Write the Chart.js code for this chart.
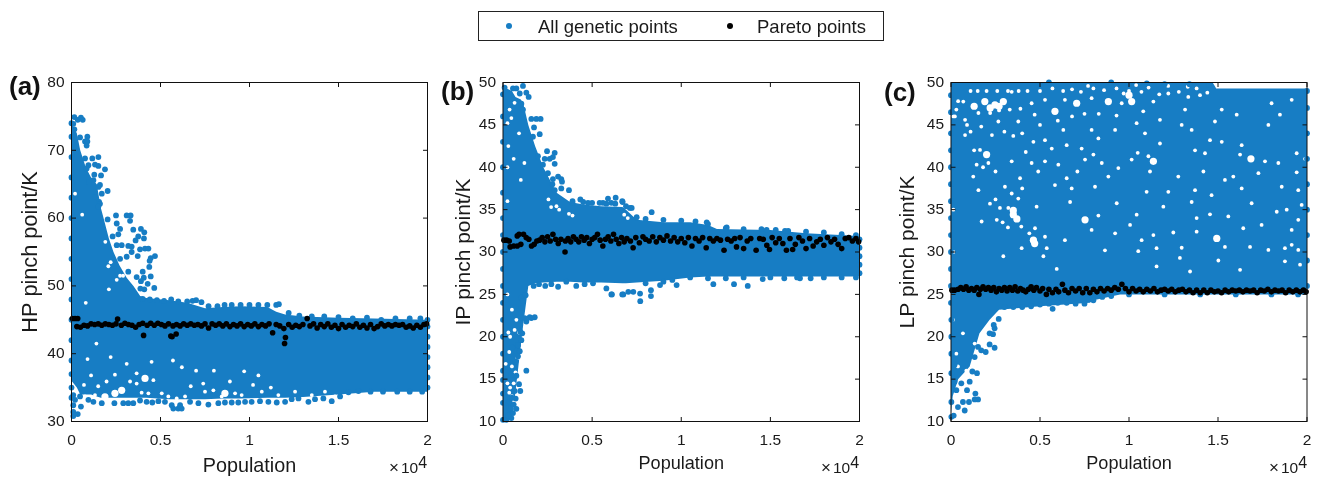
<!DOCTYPE html>
<html><head><meta charset="utf-8">
<script src="https://cdn.jsdelivr.net/npm/chart.js@4/dist/chart.umd.min.js"></script>
<style>
html,body{margin:0;padding:0;background:#fff;width:1320px;height:478px;overflow:hidden;font-family:"Liberation Sans",Arial,sans-serif;color:#1a1a1a}
canvas{position:absolute;top:0}
.t{position:absolute;white-space:nowrap;line-height:1}
.lb{position:absolute;left:478px;top:10.5px;width:406px;height:30px;border:1px solid #222;box-sizing:border-box}
.d{position:absolute;border-radius:50%;width:6px;height:6px}
.p{font-weight:bold;font-size:26px;color:#111}
.m{margin-right:2px;font-size:17px}
sup{font-size:16px;line-height:0;vertical-align:5px}
</style></head><body>
<canvas id="ca" width="440" height="478" style="left:0"></canvas>
<canvas id="cb" width="440" height="478" style="left:440px"></canvas>
<canvas id="cc" width="440" height="478" style="left:880px"></canvas>
<div class="lb"></div>
<div class="d" style="left:505.5px;top:23px;background:#177dc4"></div>
<div class="t" style="left:538px;top:18px;font-size:18.5px">All genetic points</div>
<div class="d" style="left:726.5px;top:23px;background:#000"></div>
<div class="t" style="left:757px;top:18px;font-size:18.5px">Pareto points</div>
<div class="t p" style="left:9px;top:73px">(a)</div>
<div class="t p" style="left:441px;top:78px">(b)</div>
<div class="t p" style="left:884px;top:79px">(c)</div>
<div class="t" style="left:389px;top:459px;font-size:15.5px"><span class="m">×</span>10<sup>4</sup></div>
<div class="t" style="left:821px;top:459px;font-size:15.5px"><span class="m">×</span>10<sup>4</sup></div>
<div class="t" style="left:1269px;top:459px;font-size:15.5px"><span class="m">×</span>10<sup>4</sup></div>
<script>
// ---------- Panel (a) HP pinch point ----------
const aBandX=[0,300,490,800,1100,1420,1650,1800,2100,2360,2700,3100,3480,3860,4200,5500,6500,7500,8500,9500,11000,11500,12000,13000,15000,17000,20000];
const aBandHi=[74,72.5,70,67.5,66,65,61.5,60,57,55,53,51.2,50,48.5,48.2,47.9,47.5,46.7,46.9,47,46.9,46.2,45.8,45.5,45.3,45.2,45];
const aBandLo=[36,35,34,34,34,33.7,33.5,33.5,33.5,33.5,33.5,33.5,33.5,33.5,33.5,33.3,33.3,33.3,33.4,33.4,33.5,33.5,33.5,33.6,34,34.4,34.4];
const aPoints=[[160,74.9],[0,74],[100,73.9],[350,74.5],[530,74.8],[630,74.5],[160,73.1],[480,71.9],[890,72],[760,71.3],[890,71.3],[850,70.7],[1510,69],[1170,68.8],[760,68.8],[950,67.8],[850,67.3],[1320,67.9],[1510,67.7],[1880,67.2],[1280,66.4],[1660,66.3],[1600,64.9],[2030,64],[1510,64.6],[1230,65.6],[980,65.3],[1700,63.6],[1550,62.4],[1600,62.1],[1510,61.7],[1320,63.1],
[2500,60.4],[3100,60.4],[3320,60.4],[3290,59.6],[2540,59.2],[2030,59.8],[2730,58.4],[3470,58.3],[3900,58.4],[4090,57.9],[4070,57],[3750,57.3],[3600,56.7],[2630,57.6],[2310,57.3],[2820,56],[3190,55.9],[3380,55.8],[3850,55.4],[4130,55.5],[4320,55.5],[4690,54.4],[4450,54.1],[4390,53.7],[3720,54.4],[3380,55],[4370,52.8],[4000,52.1],[4450,51.4],[4060,51.2],[3900,50.7],[4280,50.3],[4650,49.7],[4090,49.5],[3870,49.6],[3660,51.3],[3190,52.1],[2730,54],[3100,54.3],[2540,56],
[100,30.8],[350,31.1],[100,31.4],[530,32.2],[100,32.4],[200,33.2],[100,33.9],[480,33.7],[950,33.2],[1230,32.9],[1700,32.7],[2410,32.7],[2910,32.7],[3190,32.7],[3470,32.7],[3850,33.1],[4220,32.9],[4540,32.8],[4880,33],[5250,32.9],[5720,31.9],[6000,31.9],[6190,31.9],[5630,32.4],[6100,32.4],[6660,32.9],[7130,32.7],[7690,32.5],[8250,32.7],[8620,32.8],[9000,32.8],[9370,32.8],[9750,32.9],[10120,32.9],[10590,33],[11060,32.9],[11530,32.8],[12000,32.9],[12370,33.3],[12750,33.4],[13310,32.9],[13680,33.3],[14150,33.4],[14620,33],[15090,33.7],[15560,34.3],[16120,34.5],
[4000,48.1],[4400,48],[4800,47.9],[5200,47.8],[5600,48],[6000,47.7],[6500,47.7],[6800,47.8],[7000,47.9],[7300,47.6],[7700,47],[8200,47],[8600,47.2],[9000,47.2],[9500,47.2],[10000,47.2],[10500,47.2],[11000,47.2],[11500,47.2],[11650,47.3],[12200,46],[12800,45.6],[13500,45.5],[14200,45.5],[15000,45.4],[15800,45.2],[16600,45.3],[17400,45],[18200,45.2],[19000,45.2],[19600,45.2],[16800,34.4],[17500,34.4],[18300,34.4],[19000,34.4],[19700,34.4],
[0,35],[0,33.5],[0,37],[0,39],[0,42],[0,45],[0,48],[0,51],[0,54],[0,57],[0,60],[0,63],[0,66],[0,69],[0,72],[20000,35],[20000,36.5],[20000,38],[20000,39.5],[20000,41],[20000,42.5],[20000,44],[20000,45]];
const aPareto=[[50,45.2],[200,45.2],[350,45.2],[300,44],[500,43.9],[700,44.2],[900,44.1],[1100,44.4],[1300,44.3],[1500,44.4],[1700,44.2],[1900,44.4],[2100,44.3],[2300,44.2],[2500,44.4],[2590,45.1],[2800,44.2],[3000,44.5],[3200,44.3],[3400,44.2],[3600,43.9],[3800,44.3],[4000,44.5],[4050,42.7],[4250,44.2],[4450,44.5],[4650,44.2],[4850,44.5],[5050,44.3],[5250,44.1],[5450,44.4],[5580,42.6],[5650,42.5],[5880,42.9],[5700,44.1],[5900,44.3],[6100,44.1],[6300,44.4],[6500,44.2],[6700,44.4],[6900,44.2],[7100,44.3],[7300,44.1],[7500,44.4],[7700,43.8],[7900,44.4],[8100,44.2],[8300,44.4],[8500,44.1],[8700,44.4],[8900,44],[9100,44.3],[9300,44.1],[9500,44.4],[9700,44],[9900,44.3],[10100,44.1],[10300,44.4],[10500,44],[10700,44.3],[10900,44.1],[11100,44.4],[11300,43.1],[11500,44.3],[11700,44.1],[11930,43.7],[12020,42.4],[11970,41.5],[12200,44.3],[12400,43.9],[12600,44.2],[12800,44],[13000,44.3],[13240,45.2],[13400,44.1],[13600,44.4],[13800,43.8],[14000,44.3],[14200,44],[14400,44.4],[14600,43.9],[14800,44.2],[15000,43.7],[15200,44.3],[15400,43.9],[15600,44.2],[15800,44],[16000,44.4],[16200,43.9],[16400,44.2],[16600,43.8],[16800,44.3],[17000,43.7],[17200,44],[17400,44.4],[17600,44.1],[17800,44.3],[18000,44.1],[18200,44.3],[18400,44.2],[18600,44.3],[18800,43.9],[19000,44.1],[19200,43.8],[19400,44.2],[19600,43.9],[19800,44.3],[19950,44.4]];
const aGapsSmall=[[2070,52.9],[2540,50.9],[2730,51.5],[200,63.6],[600,60.5],[1900,56.5],[2200,53.5],[2900,51.5],[2100,49.5],[800,47.5],[1400,41.5],[2200,39.5],[4500,38.8],[5700,39],[6200,38],[3100,38.5],[900,39.2],[7000,37.5],[8000,37.5],[9700,37.4],[10500,36.8],
[3660,37.1],[4600,36.1],[2440,36.9],[1970,35.9],[1320,33.9],[760,33.7],[3290,35.9],[3660,35.6],[4320,34.15],[3940,34.25],[5070,34.15],[5440,33.7],[5910,33.4],[6380,33.7],[7400,35.6],[7500,34.4],[7970,34.6],[9190,34.15],[9560,33.9],[8440,33.7],[10690,34.4],[11620,33.9],[12560,34.4],[13500,33.9],[14240,34.4],[14800,33.7],[1500,35.2],[6700,35.2],[8900,35.9],[10200,35.4],[11200,35],[700,35.4],[1100,36.8]];
const aGapsBig=[[4130,36.36],[2820,34.6],[2440,34.15],[1880,33.65],[8620,34.15]];
// ---------- Panel (b) IP pinch point ----------
const bBandX=[0,500,700,1000,1140,1420,1800,2260,3010,3760,4500,5500,6700,6900,7500,9000,10500,11500,12000,15000,17000,20000];
const bBandHi=[49.5,49,48.3,48,47.5,45,42.5,40,37,35.9,35.6,35.4,35.3,35,33.8,33.5,33.5,33.2,32.7,32.6,32.2,31.9];
const bBandLo=[10.2,10.3,13.5,19,21.5,26,26.3,26.4,26.5,26.5,26.4,26.4,26.3,26.3,26.4,26.6,27,27.1,27.1,27.1,27.1,27.1];
const bPoints=[[1120,49.6],[560,49.3],[750,49.3],[90,49.4],[1310,48.8],[1440,48.3],[940,48.7],[0,48.6],[1030,47.5],[1120,46.8],[1590,45.7],[1870,45.7],[2110,45.7],[1740,44.7],[2060,43.9],[1680,43.6],[2470,41.9],[2900,41.7],[2620,41],[2340,41],[2800,41.2],[2900,40.4],[1960,41.3],[2240,40.3],[2520,39.3],[3090,38.9],[2800,38.6],[3270,38.6],[3310,38.3],[2770,38],[3270,37.5],[3700,37.3],[2900,37.3],[4340,36.2],[5890,36.3],[6320,36.4],[6690,36],[5610,35.8],[6080,35.8],[5420,35.8],[4770,35.8],[3890,35.8],[8340,34.7],[7120,35.2],[7220,35.2],[6710,35.9],[11430,33.5],[12550,32.9],[15820,32.5],[14790,32.6],
[1720,26],[2020,26.2],[2370,26],[2710,26.2],[3090,25.9],[3550,26.5],[4110,26],[4580,26.2],[5050,26.3],[5800,25.7],[6080,25],[6690,25],[6110,25],[6750,25],[7030,25.3],[7310,25.3],[7690,25.1],[7700,24.2],[8300,25.5],[8300,24.8],[8810,26.1],[9740,26.1],[11800,26.2],[12960,26.2],[13730,26],[14570,26.8],[15780,26.9],[16660,26.9],[17260,26.9],
[1220,24.9],[1030,24.6],[1030,23.4],[1270,24.9],[1120,24.2],[1780,22.3],[1500,22.3],[1310,21.8],[1220,22.2],[1590,22.2],[970,20.6],[1080,20.4],[1030,19.6],[840,19],[520,18.7],[750,18.3],[940,18.3],[840,17.7],[710,17.1],[1310,16],[750,15.4],[470,15.5],[900,14.4],[650,13.6],[970,13.6],[710,12.7],[370,12.3],[340,11.6],[750,11.5],[560,11],[470,10.4],[0,10.2],[190,10.2],[300,10.7],[450,11.5],[600,12],[500,12.8],[0,12.2],[0,13.3],[0,14.9],
[3900,36],[4500,35.9],[5000,35.8],[5800,35.7],[6300,35.7],[6900,35.4],[7500,34.1],[8000,33.9],[9000,33.8],[10000,33.7],[10800,33.6],[11500,33.3],[12500,32.8],[13500,32.7],[14500,32.7],[15300,32.6],[16000,32.5],[17000,32.4],[18000,32.3],[19000,32.1],[19800,32],[8000,26.3],[9000,26.5],[9500,26.7],[10500,27],[11500,26.9],[12500,26.9],[13500,27],[15000,27],[16500,27],[18000,27],[19000,27],[19800,27],
[0,16],[0,18],[0,20],[0,22],[0,24],[0,26],[0,28],[0,30],[0,32],[0,34],[0,37],[0,40],[0,43],[0,46],[20000,27.5],[20000,28.5],[20000,29.5],[20000,30.5],[20000,31.5]];
const bPareto=[[50,31.4],[200,31.4],[350,31.3],[400,30.6],[600,30.7],[800,30.7],[1000,30.9],[800,31.9],[900,32.1],[1150,32.1],[1300,31.7],[1450,31.5],[1600,30.7],[1750,30.9],[1900,31.3],[2050,31.4],[2200,31.7],[2350,31.2],[2500,31.8],[2650,31.3],[2800,32.1],[2950,31.5],[3100,31],[3250,31.5],[3480,30],[3500,31.3],[3650,31.6],[3800,31.2],[3950,31.8],[4100,31.5],[4250,31.2],[4400,31.8],[4550,31.4],[4700,31.7],[4850,31],[5000,31.5],[5150,31.7],[5300,32.1],[5450,31.4],[5600,30.7],[5750,31.5],[5900,31.8],[6050,31.3],[6200,32.1],[6350,31.5],[6500,31],[6650,31.7],[6800,31.2],[6950,31.6],[7150,31.3],[7300,30.5],[7450,31.7],[7650,31.1],[7850,31.8],[8000,31.5],[8200,31.3],[8400,31.8],[8600,31.2],[8800,31.7],[9000,31.4],[9200,31.9],[9400,31.3],[9600,31.7],[9800,31.2],[10000,31.6],[10200,31.1],[10400,31.7],[10600,30.7],[10800,31.6],[11000,31.3],[11200,31.7],[11400,30.5],[11600,31.6],[11800,31.3],[12000,31.6],[12200,31.4],[12400,30.2],[12600,31.5],[12800,31.3],[13000,31.6],[13100,30.6],[13300,31.7],[13500,30.4],[13700,31.3],[13900,31.6],[14200,30.2],[14400,31.6],[14600,31.5],[14800,30.8],[14950,30.3],[15100,31.7],[15300,31.1],[15500,31.6],[15700,31],[15900,30.2],[16100,31.6],[16250,30.3],[16400,30.9],[16600,31.7],[16800,31.3],[17000,30.4],[17200,31.6],[17400,30.7],[17600,31.2],[17800,31.5],[18000,30.8],[18200,31.7],[18400,31.2],[18600,31.5],[18800,30.9],[19000,30.4],[19200,31.6],[19400,31.7],[19600,31.3],[19800,31.6],[19950,31.2]];
const bGapsSmall=[[370,46.8],[470,45.8],[650,47.6],[250,45.2],[300,42.5],[600,41],[250,40],[900,44],[1200,40.5],[1000,38.5],[250,36],[2550,36.2],[2700,35.3],[3000,35.4],[3150,35],[3700,34.5],[3900,34.3],[650,20.8],[750,22],[300,20.5],[350,18.2],[150,16.8],[250,14.5],[350,13.4],[500,23.2],[250,25],[6800,34.4],[7000,34],[700,15.8],[600,14.5],[600,12.3],[500,13],[400,14],[500,16.5],[800,17.5],[900,20.5],[400,20]];
const bGapsBig=[];
// ---------- Panel (c) LP pinch point ----------
const cBandX=[0,100,400,1050,1600,2170,2700,5000,7800,8000,9500,14700,14900,20000];
const cBandHi=[50,50,50,50,50,50,50,50,50,50,50,50,49.3,49.3];
const cBandLo=[11,13,15,16.5,20.4,22,23.2,23.6,24,24.3,25,25,25,25];
const cPoints=[[20,10.55],[150,10.7],[20,12.3],[770,11.3],[390,11.7],[670,12.3],[1010,12.3],[1520,12.6],[1330,12.6],[1370,13.3],[900,13.7],[300,13.7],[200,14.7],[580,14.5],[1050,14.7],[1460,15.7],[1200,15.9],[20,15.7],[200,16.7],[1330,17.6],[2450,18.7],[1950,18.2],[2170,19.1],[2360,20.3],[2450,21],[2680,22.1],[2400,21.4],[1700,18.4],[1520,18.8],[2170,20.4],[20,18],[20,20],[20,22],[5710,23.3],
[3000,23.5],[3500,23.5],[4000,23.5],[4500,23.6],[5000,23.8],[5500,23.9],[6000,24],[6500,24],[7000,23.9],[7500,23.9],[8000,24.3],[8500,24.7],[9000,24.8],[10000,25],[12000,25],[14000,25],[16000,25],[18000,25],[19500,25],
[0,24],[0,26],[0,28],[0,30],[0,32],[0,34],[0,36],[0,38],[0,40],[0,42],[0,44],[0,46.5],[0,48.5],[20000,26],[20000,29],[20000,32],[20000,35],[20000,38],[20000,41],[20000,44],[20000,47],[20000,49],
[14500,49.7],[12000,49.8],[13400,49.8],[11000,49.9],[9000,50],[5500,50]];
const cPareto=[[50,25.5],[200,25.5],[400,25.6],[550,25.8],[700,25.6],[850,25.9],[1000,25.5],[1150,25.7],[1300,25.5],[1570,25],[1450,25.8],[1650,25.6],[1800,25.9],[1950,25.6],[2100,25.8],[2250,25.5],[2400,25.8],[2550,25.3],[2700,25.7],[2850,25.5],[3000,25.8],[3150,25.4],[3300,25.8],[3450,25.5],[3600,25.9],[3750,25.4],[3900,25.7],[4050,25.5],[4200,25.3],[4350,25.6],[4500,25.9],[4650,25.5],[4800,25.8],[5000,25.4],[5360,25],[5150,25.7],[5500,25.6],[5700,25.2],[5900,25.6],[6050,25.3],[6260,26.2],[6400,25.5],[6600,25.2],[6800,25.7],[7000,25.4],[7200,25.7],[7400,25.2],[7600,25.7],[7800,25.2],[8000,25.6],[8200,25.3],[8400,25.7],[8600,25.4],[8800,25.7],[9000,25.5],[9200,25.8],[9400,25.6],[9600,26.2],[9800,25.7],[10000,25.3],[10200,25.7],[10400,25.4],[10600,25.6],[10800,25.3],[11000,25.6],[11200,25.4],[11400,25.7],[11600,25.3],[11800,25.5],[12000,25.6],[12200,25.4],[12400,25.6],[12600,25.3],[12800,25.5],[13000,25.6],[13200,25.3],[13400,25.5],[13600,25.2],[13800,25.5],[14000,25.2],[14200,25.5],[14400,25.2],[14600,25.5],[14800,25.3],[15000,25.4],[15200,25.2],[15400,25.5],[15600,25.3],[15800,25.5],[16000,25.4],[16200,25.5],[16400,25.3],[16600,25.5],[16800,25.4],[17000,25.5],[17200,25.2],[17400,25.5],[17600,25.4],[17800,25.6],[18000,25.3],[18200,25.5],[18400,25.4],[18600,25.5],[18800,25.2],[19000,25.5],[19200,25.3],[19400,25.5],[19600,25.3],[19800,25.5],[19950,25.3]];
const cGapsBig=[[2470,47.35],[1900,47.75],[2940,47.75],[5840,46.6],[7060,47.55],[8840,47.75],[10150,47.75],[16850,41],[3500,34.4],[4630,31.4],[7530,33.8],[14930,31.6],[2000,41.5],[11370,40.7],[1300,47.2],[10000,48.5],[2200,47],[2700,47.2],[3500,34.9],[3700,33.9],[4700,31]];
const cGapsSmall=[[690,47.75],[220,46],[1540,46.4],[9590,47.55],[4530,47.55],[5280,47.95],[6400,47.95],[7900,48.15],[3410,48.9],[1100,49],[1500,49],[2000,49],[2600,49],[3200,49],[3800,49],[4300,49],[5000,49],[6800,49.2],[8000,49.3],
[4630,43],[5660,42.2],[3410,40.7],[1630,42.05],[4530,40.5],[790,43.8],[6310,44.4],[7900,44.4],[8840,38.9],[1440,40.3],[5280,43.2],[6500,42.6],[7340,42.2],[7530,40.9],[8470,40.5],[5840,37.9],[3880,38.7],[1250,38.9],[1540,37.3],[8090,37.7],[6780,37.5],[3410,36.9],[5280,40.7],[6030,40.3],[3030,37.7],[9220,44.4],[8280,43.4],[790,45.6],[2660,45.4],[3780,45.4],
[11370,47.75],[12210,48.7],[13330,48.3],[13990,48.5],[10430,45.2],[11740,45.6],[10900,44],[13150,46.8],[10800,46.6],[14830,45.4],[15210,46.8],[16050,46.2],[13520,44.4],[17830,45],[18010,47.55],[19140,47.95],[18480,46.2],[12960,45],[11740,42.8],[11090,41.3],[10150,40.9],[10490,41.7],[13710,42],[14550,43.2],[15210,43],[14270,41.65],[16330,42.6],[16240,41.5],[17640,40.7],[18390,40.5],[19420,41.65],[19890,41],[14180,39.5],[17270,39.3],[19420,39.4],[15860,38.9],[12770,38.9],[11180,39.5],[10990,37.1],[13710,37.3],[16330,37.5],[18580,37.7],[19510,37.3],[12210,37.1],[14640,36.7],[15390,38.5],
[3220,35.2],[2190,35.7],[2750,35.2],[8280,34.3],[4810,35.35],[6690,35.9],[7900,32.6],[5280,31.8],[4720,32.8],[2570,33.8],[1720,33.6],[2940,29.5],[5940,28],[5380,30.45],[3970,30.45],[9310,35.75],[10060,33.2],[3780,36.3],[8650,30.2],[6400,31.4],[5190,29.5],[9220,32.2],
[13800,34],[14550,34.45],[15580,34.2],[10430,34.4],[11930,35.35],[17450,33.2],[18860,35],[19140,32.6],[19510,33.8],[18300,34.75],[10520,30.1],[11550,30.45],[12860,29.3],[12490,32.3],[13800,32.4],[11370,32],[12960,30.5],[10710,31.4],[16420,32.8],[13430,27.7],[19510,30.25],[19140,30.85],[18760,30.45],[17830,30.25],[16800,30.6],[15390,30.6],[15020,29],[19610,28.5],[18760,28.9],[16240,27.9],[11550,28.3],[16890,35.75],[13520,35.9],[19700,35.55],
[110,22],[300,18],[670,20.4],[390,16.5],[860,16],[1330,19.2],[490,12.9],[130,46],[130,30],[130,35],
[2200,46.4],[2700,46.7],[3300,46.8],[3900,46.9],[4700,46.2],[900,45],[1100,44.2],[1700,44.8],[2300,43.8],[3000,44.2],[3500,43.7],[4000,44],[5000,45],[6000,45.5],[6800,46],[7500,46.3],[8300,46.3],[9300,46.1],[2100,40.5],[1300,42],[1800,40],[2500,39.5],[4200,41.8],[4900,39.5],[6500,38.7],[7100,39.5],[9400,39.9],[8000,41.5],[4000,37.5],[2500,36.2],[3950,33],[4400,32.2],[3200,32.9],[2900,33.5],
[10000,49],[10400,49.7],[10700,48.9],[11100,49.4],[11700,48.6],[12200,49.6],[12800,48.9],[13300,49.5],[13800,49.3],[14400,48.8],[5700,49.3],[6300,49],[7300,48.9],[7700,49.6],[8600,49.1],[9300,49.3],[9700,48.7],[300,46.8],[400,47.8]];
// Tick labels
const xTicks=[0,5000,10000,15000,20000];
const xTickLabels=['0','0.5','1','1.5','2'];
const aYTicks=[30,40,50,60,70,80];
const bYTicks=[10,15,20,25,30,35,40,45,50];
const cYTicks=[10,15,20,25,30,35,40,45,50];

const BLUE='#177dc4';
const xy=p=>p.map(q=>({x:q[0],y:q[1]}));
const band=(xs,ys)=>xs.map((x,i)=>({x,y:ys[i]}));

const frame={id:'frame',afterDatasetsDraw(c){
  const g=c.ctx,a=c.chartArea,x=c.scales.x,y=c.scales.y,L=4.5;
  g.save();g.strokeStyle='#111';g.lineWidth=1;
  g.strokeRect(a.left,a.top,a.right-a.left,a.bottom-a.top);
  g.beginPath();
  x.ticks.forEach(t=>{const p=x.getPixelForValue(t.value);g.moveTo(p,a.bottom);g.lineTo(p,a.bottom-L);g.moveTo(p,a.top);g.lineTo(p,a.top+L);});
  y.ticks.forEach(t=>{const p=y.getPixelForValue(t.value);g.moveTo(a.left,p);g.lineTo(a.left+L,p);g.moveTo(a.right,p);g.lineTo(a.right-L,p);});
  g.stroke();g.restore();
}};

function panel(id,o){
  new Chart(document.getElementById(id),{
    type:'scatter',
    plugins:[frame],
    data:{datasets:[
      {label:'Pareto points',data:xy(o.pareto),backgroundColor:'#000',pointRadius:2.8,pointBorderWidth:0,clip:false,order:0},
      {label:'All genetic points',data:xy(o.points),backgroundColor:BLUE,pointRadius:2.9,pointBorderWidth:0,clip:false,order:1},
      {label:'gaps',data:xy(o.gapsSmall),backgroundColor:'#fff',pointRadius:1.9,pointBorderWidth:0,order:2},
      {label:'gaps large',data:xy(o.gapsBig),backgroundColor:'#fff',pointRadius:3.6,pointBorderWidth:0,order:2},
      {type:'line',label:'dense upper',data:band(o.bx,o.hi),borderWidth:0,pointRadius:0,tension:0,fill:{target:5},backgroundColor:BLUE,order:3},
      {type:'line',label:'dense lower',data:band(o.bx,o.lo),borderWidth:0,pointRadius:0,tension:0,fill:false,order:4}
    ]},
    options:{
      responsive:false,animation:false,
      layout:{padding:{left:0,right:o.padR,top:82.5,bottom:0}},
      plugins:{legend:{display:false},tooltip:{enabled:false}},
      scales:{
        x:{type:'linear',min:0,max:20000,
          afterBuildTicks:s=>{s.ticks=xTicks.map(v=>({value:v}));},
          afterFit:s=>{s.height=56.5;s.paddingLeft=0;s.paddingRight=0;},
          grid:{display:false,drawTicks:false},border:{display:false},
          ticks:{autoSkip:false,maxRotation:0,padding:10,color:'#1a1a1a',font:{family:'Liberation Sans',size:15.5},callback:v=>xTickLabels[xTicks.indexOf(v)]},
          title:{display:true,text:'Population',color:'#1a1a1a',font:{family:'Liberation Sans',size:o.xTitle},padding:{top:0,bottom:o.xTitleB}}},
        y:{type:'linear',min:o.yMin,max:o.yMax,
          afterBuildTicks:s=>{s.ticks=o.yTicks.map(v=>({value:v}));},
          afterFit:s=>{s.width=o.left;s.paddingTop=0;s.paddingBottom=0;},
          grid:{display:false,drawTicks:false},border:{display:false},
          ticks:{autoSkip:false,padding:7,color:'#1a1a1a',font:{family:'Liberation Sans',size:15.5}},
          title:{display:true,text:o.yTitle,color:'#1a1a1a',font:{family:'Liberation Sans',size:o.yTitleS},padding:{top:o.yTitleP,bottom:0}}}
      }
    }
  });
}
panel('ca',{pareto:aPareto,points:aPoints,gapsSmall:aGapsSmall,gapsBig:aGapsBig,bx:aBandX,hi:aBandHi,lo:aBandLo,yMin:30,yMax:80,yTicks:aYTicks,yTitle:'HP pinch point/K',left:71.5,padR:12.5,xTitle:19.8,xTitleB:0,yTitleS:21.7,yTitleP:18.5});
panel('cb',{pareto:bPareto,points:bPoints,gapsSmall:bGapsSmall,gapsBig:bGapsBig,bx:bBandX,hi:bBandHi,lo:bBandLo,yMin:10,yMax:50,yTicks:bYTicks,yTitle:'IP pinch point/K',left:63,padR:20.5,xTitle:18.1,xTitleB:3,yTitleS:21,yTitleP:12});
panel('cc',{pareto:cPareto,points:cPoints,gapsSmall:cGapsSmall,gapsBig:cGapsBig,bx:cBandX,hi:cBandHi,lo:cBandLo,yMin:10,yMax:50,yTicks:cYTicks,yTitle:'LP pinch point/K',left:71,padR:13,xTitle:18.1,xTitleB:3,yTitleS:21,yTitleP:15.5});
</script>
</body></html>
